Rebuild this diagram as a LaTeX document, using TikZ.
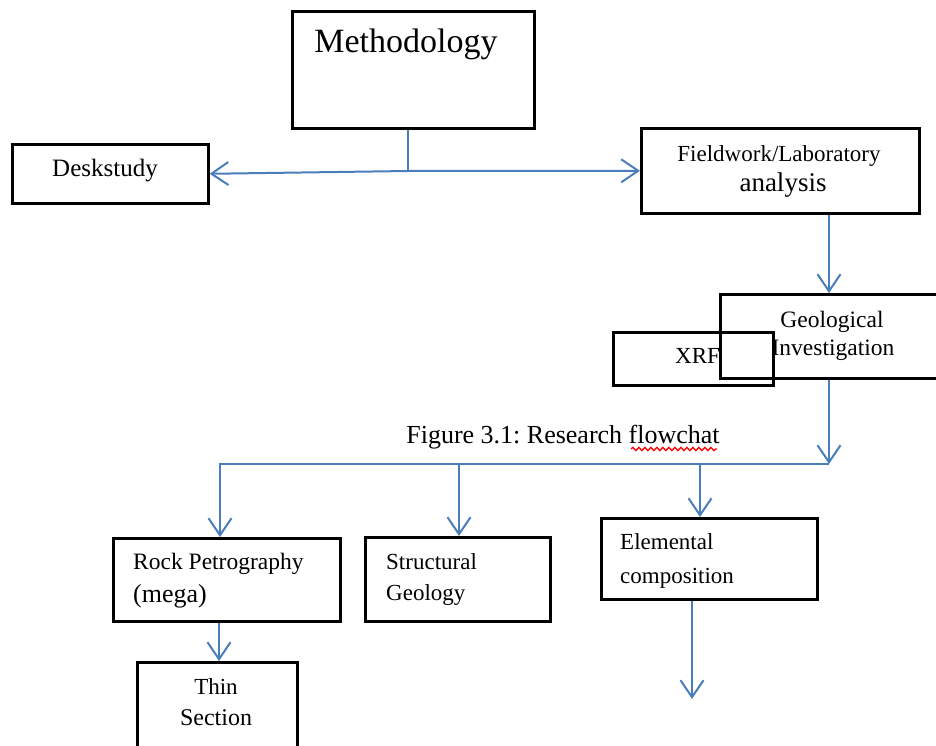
\documentclass[tikz,border=0pt]{standalone}
\usepackage{fontspec}
\setmainfont{Liberation Serif}
\usetikzlibrary{arrows.meta,decorations.pathmorphing}
\definecolor{lineblue}{HTML}{4A7EBB}
\newcommand\myfs[1]{\fontsize{#1}{#1}\selectfont}
\frenchspacing
\begin{document}
\begin{tikzpicture}[x=1pt,y=-1pt,
  box/.style={draw=black, line width=2.6pt, anchor=north west, inner sep=0pt},
  lbl/.style={inner sep=0pt, text=black},
  wire/.style={draw=lineblue, line width=2pt},
  conn/.style={wire, -{Straight Barb[length=17pt,width=23pt]}}]
\useasboundingbox (0,0) rectangle (936,746);
% boxes
\node[box, minimum width=242pt, minimum height=117pt] (meth) at (291,10) {};
\node[box, minimum width=196pt, minimum height=59pt] (desk) at (11,143) {};
\node[box, minimum width=278pt, minimum height=85pt] (field) at (640,127) {};
\node[box, minimum width=160pt, minimum height=53pt] (xrf) at (612,331) {};
\node[box, minimum width=232pt, minimum height=84pt] (geo) at (719,293) {};
\node[box, minimum width=227pt, minimum height=83pt] (rock) at (112,537) {};
\node[box, minimum width=185pt, minimum height=84pt] (struct) at (364,536) {};
\node[box, minimum width=216pt, minimum height=81pt] (elem) at (600,517) {};
\node[box, minimum width=160pt, minimum height=100pt] (thin) at (136,661) {};
% texts
\node[lbl, font=\myfs{34}, anchor=base] (meth-t) at (406,53) {Methodology};
\node[lbl, font=\myfs{25}, anchor=base] (desk-t) at (105,177) {Deskstudy};
\node[lbl, font=\myfs{23}, anchor=base] (field-t1) at (779,162) {Fieldwork/Laboratory};
\node[lbl, font=\myfs{27}, anchor=base] (field-t2) at (783,191) {analysis};
\node[lbl, font=\myfs{23.5}, anchor=base] (geo-t1) at (832,327) {Geological};
\node[lbl, font=\myfs{23.5}, anchor=base] (geo-t2) at (833,355) {Investigation};
\node[lbl, font=\myfs{23}, anchor=base west] (xrf-t) at (675,363) {XRF};
\node[lbl, font=\myfs{26}, anchor=base] (cap) at (563,443) {Figure 3.1: Research flowchat};
\draw[red, line width=1.3pt, decorate, decoration={snake, amplitude=1.6pt, segment length=6pt}] (631,449) -- (717,449);
\node[lbl, font=\myfs{23.5}, anchor=base west] (rock-t1) at (133,569) {Rock Petrography};
\node[lbl, font=\myfs{26}, anchor=base west] (rock-t2) at (133,602) {(mega)};
\node[lbl, font=\myfs{23}, anchor=base west] (struct-t1) at (386,569) {Structural};
\node[lbl, font=\myfs{23}, anchor=base west] (struct-t2) at (386,600) {Geology};
\node[lbl, font=\myfs{23}, anchor=base west] (elem-t1) at (620,549) {Elemental};
\node[lbl, font=\myfs{23}, anchor=base west] (elem-t2) at (620,583) {composition};
\node[lbl, font=\myfs{23}, anchor=base] (thin-t1) at (216,694) {Thin};
\node[lbl, font=\myfs{24}, anchor=base] (thin-t2) at (216,725) {Section};
% connectors
\coordinate (j1) at (408,171);
\draw[wire] (meth.south -| j1) -- (j1);
\draw[conn] (j1) -- (desk.east);
\draw[conn] (j1) -- (field.west);
\coordinate (gx) at (829,0);
\draw[conn] (field.south -| gx) -- (geo.north -| gx);
\coordinate (j2) at (829,464);
\coordinate (j3) at (220,464);
\draw[conn] (geo.south -| j2) -- (j2);
\draw[conn] (j2) -- (j3) -- (j3 |- rock.north);
\coordinate (j4) at (459,464);
\draw[conn] (j4) -- (j4 |- struct.north);
\coordinate (j5) at (700,464);
\draw[conn] (j5) -- (j5 |- elem.north);
\coordinate (e1) at (692,699);
\draw[conn] (elem.south -| e1) -- (e1);
\coordinate (j6) at (219,0);
\draw[conn] (rock.south -| j6) -- (thin.north -| j6);
\end{tikzpicture}
\end{document}
